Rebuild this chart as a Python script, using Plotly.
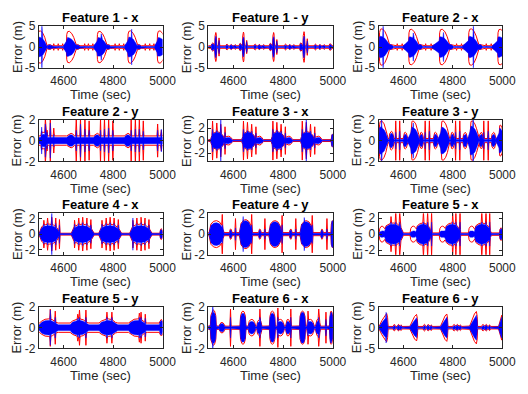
import numpy as np
import plotly.graph_objects as go

# ---------------- data ----------------
TITLES = ["Feature 1 - x", "Feature 1 - y", "Feature 2 - x",
          "Feature 2 - y", "Feature 3 - x", "Feature 3 - y",
          "Feature 4 - x", "Feature 4 - y", "Feature 5 - x",
          "Feature 5 - y", "Feature 6 - x", "Feature 6 - y"]
X_RANGE = [4500, 5000]
X_TICKS = [4600, 4800, 5000]
Y_LIMS = [5, 5, 5, 2, 3.3, 2, 2.7, 2, 2.6, 2, 2, 5]
Y_TICKS = [[-5, 0, 5], [-5, 0, 5], [-5, 0, 5], [-2, 0, 2], [-2, 0, 2], [-2, 0, 2],
           [-2, 0, 2], [-2, 0, 2], [-2, 0, 2], [-2, 0, 2], [-2, 0, 2], [-5, 0, 5]]

# quiet-level sigma bound (red) and error half-width (blue) per panel
BASE_RED = [0.3, 0.3, 0.3, 0.45, 0.15, 0.2, 0.12, 0.15, 0.15, 0.45, 0.15, 0.3]
BASE_BLUE = [0.12, 0.12, 0.12, 0.3, 0.07, 0.1, 0.07, 0.08, 0.07, 0.28, 0.08, 0.12]

# lobes: start time, duration, red peak, blue peak
F1X_LOBE_T0 = [4495, 4611, 4735, 4859, 4978]
F1X_LOBE_LEN = [38, 40, 40, 40, 40]
F1X_LOBE_RED = [3.9, 3.8, 3.8, 3.9, 3.9]
F1X_LOBE_BLUE = [2.4, 2.3, 2.3, 2.4, 2.3]
# bursts: centre time, half width, red peak, blue peak
F1X_B_T = [4512, 4875, 4752, 4543, 4656, 4780, 4904, 4560, 4578, 4596, 4685, 4700, 4718, 4808, 4825, 4843, 4930, 4948, 4965]
F1X_B_W = [2, 2, 2, 10, 10, 10, 10, 2, 2, 2, 2, 2, 2, 2, 2, 2, 2, 2, 2]
F1X_B_RED = [0, 0, 0, 0.6, 0.6, 0.6, 0.6, 0.8, 0.8, 0.8, 0.8, 0.8, 0.8, 0.8, 0.8, 0.8, 0.8, 0.8, 0.8]
F1X_B_BLUE = [5.2, 4.3, 3.2, 0.5, 0.5, 0.5, 0.5, 0.3, 0.3, 0.3, 0.3, 0.3, 0.3, 0.3, 0.3, 0.3, 0.3, 0.3, 0.3]

F1Y_B_T = [4530, 4641, 4762, 4884, 4543, 4654, 4775, 4897, 4518, 4629, 4750, 4872,
           4575, 4592, 4608, 4688, 4705, 4722, 4810, 4827, 4843, 4930, 4948, 4965, 4990]
F1Y_B_W = [4, 4, 4, 4, 3, 3, 3, 3, 6, 6, 6, 6, 5, 6, 4, 5, 6, 4, 5, 6, 4, 5, 6, 4, 6]
F1Y_B_RED = [3.5, 3.6, 3.5, 3.7, 2.2, 1.6, 1.8, 2.0, 1.0, 0.9, 0.9, 1.0,
             0.7, 0.6, 0.6, 0.7, 0.6, 0.6, 0.7, 0.6, 0.6, 0.7, 0.6, 0.6, 0.8]
F1Y_B_BLUE = [2.6, 2.4, 2.5, 2.6, 1.6, 1.3, 1.4, 1.5, 0.8, 0.7, 0.7, 0.8,
              0.5, 0.5, 0.4, 0.5, 0.5, 0.4, 0.5, 0.5, 0.4, 0.5, 0.5, 0.4, 0.6]

F2X_LOBE_T0 = [4502, 4621, 4745, 4863, 4981]
F2X_LOBE_LEN = [42, 42, 42, 42, 42]
F2X_LOBE_RED = [4.4, 4.3, 4.3, 4.4, 4.3]
F2X_LOBE_BLUE = [2.6, 2.5, 2.5, 2.6, 2.5]
F2X_B_T = [4518, 4883, 4640, 4762, 4547, 4666, 4790, 4908, 4575, 4595, 4690, 4712, 4815, 4835, 4935, 4955]
F2X_B_W = [2, 2, 2, 2, 12, 12, 12, 12, 2, 2, 2, 2, 2, 2, 2, 2]
F2X_B_RED = [0, 0, 0, 0, 0.6, 0.6, 0.6, 0.6, 0.8, 0.8, 0.8, 0.8, 0.8, 0.8, 0.8, 0.8]
F2X_B_BLUE = [5.2, 5.2, 3.4, 3.5, 0.6, 0.6, 0.6, 0.6, 0.3, 0.3, 0.3, 0.3, 0.3, 0.3, 0.3, 0.3]

F2Y_B_T = [4511, 4526, 4533, 4546, 4560, 4651, 4668, 4686, 4703, 4749, 4765, 4782, 4799,
           4873, 4890, 4906, 4922, 4980, 4995, 4630, 4736, 4860, 4520]
F2Y_B_W = [2.5, 2.5, 2, 2.5, 2.5, 2.5, 2.5, 2.5, 2.5, 2.5, 2.5, 2.5, 2.5,
           2.5, 2.5, 2.5, 2.5, 2.5, 3, 18, 15, 15, 15]
F2Y_B_RED = [0.9, 2.1, 1.0, 2.0, 1.2, 2.1, 2.1, 2.1, 1.9, 2.1, 2.1, 2.0, 1.9,
             2.1, 2.1, 2.0, 1.9, 1.6, 1.0, 0.7, 0.7, 0.7, 0.8]
F2Y_B_BLUE = [1.3, 1.6, 0.8, 1.7, 0.6, 1.0, 1.6, 1.1, 1.0, 1.0, 1.1, 1.2, 1.0,
              1.0, 1.1, 1.1, 0.9, 1.0, 1.1, 0.55, 0.55, 0.55, 0.6]

F3X_B_T = [4537, 4662, 4780, 4898, 4580, 4705, 4823, 4941, 4998,
           4517, 4534, 4550, 4567, 4641, 4657, 4674, 4691, 4759, 4775, 4792, 4809, 4877, 4893, 4910, 4927]
F3X_B_W = [28, 28, 28, 28, 18, 16, 16, 16, 5,
           2.5, 2.5, 2.5, 2.5, 2.5, 2.5, 2.5, 2.5, 2.5, 2.5, 2.5, 2.5, 2.5, 2.5, 2.5, 2.5]
F3X_B_RED = [1.4, 1.4, 1.4, 1.4, 0.7, 0.7, 0.7, 0.7, 1.0,
             3.1, 2.8, 2.6, 2.2, 3.1, 2.9, 2.6, 2.2, 3.1, 2.9, 2.6, 2.2, 3.1, 2.9, 2.6, 2.2]
F3X_B_BLUE = [1.3, 1.3, 1.3, 1.3, 0.5, 0.5, 0.5, 0.5, 1.0,
              1.8, 1.6, 3.5, 1.3, 1.8, 1.6, 1.5, 1.2, 1.8, 1.7, 1.5, 1.2, 1.8, 3.5, 1.5, 1.2]

F3Y_LOBE_T0 = [4502, 4630, 4751, 4869, 4987]
F3Y_LOBE_LEN = [36, 36, 36, 36, 20]
F3Y_LOBE_RED = [1.9, 1.9, 1.9, 1.9, 1.5]
F3Y_LOBE_BLUE = [1.3, 1.3, 1.3, 1.4, 1.2]
F3Y_B_T = [4512, 4882, 4640, 4569, 4585, 4688, 4705, 4811, 4828, 4925, 4943,
           4552, 4608, 4673, 4730, 4798, 4850, 4915, 4965]
F3Y_B_W = [2, 2, 2, 2.5, 2.5, 2.5, 2.5, 2.5, 2.5, 2.5, 2.5, 10, 9, 8, 9, 8, 9, 8, 9]
F3Y_B_RED = [0, 0, 0, 1.9, 1.9, 1.9, 1.9, 1.9, 1.9, 1.9, 1.9, 0.9, 0.8, 0.8, 0.8, 0.8, 0.8, 0.8, 0.8]
F3Y_B_BLUE = [2.4, 2.2, 1.7, 0.8, 0.9, 0.8, 0.9, 0.8, 0.9, 0.8, 0.9, 0.7, 0.6, 0.6, 0.6, 0.6, 0.6, 0.6, 0.6]

F4X_B_T = [4543, 4677, 4788, 4912, 4995,
           4520, 4535, 4552, 4568, 4583, 4644, 4661, 4677, 4694, 4710,
           4755, 4772, 4788, 4804, 4821, 4880, 4896, 4913, 4929, 4945]
F4X_B_W = [42, 46, 46, 45, 6] + [2.5] * 20
F4X_B_RED = [1.3, 1.3, 1.3, 1.3, 0.7,
             1.8, 2.1, 2.2, 2.1, 1.9, 1.8, 2.1, 2.2, 2.1, 1.9,
             1.8, 2.1, 2.2, 2.1, 1.9, 1.8, 2.1, 2.2, 2.1, 1.9]
F4X_B_BLUE = [1.1, 1.1, 1.1, 1.1, 0.6,
              1.3, 1.4, 2.8, 1.4, 1.2, 1.3, 1.4, 1.5, 1.4, 1.2,
              1.3, 1.4, 1.5, 1.4, 1.2, 2.1, 1.4, 1.5, 1.4, 1.2]

F4Y_B_T = [4533, 4651, 4769, 4894, 4998,
           4556, 4609, 4674, 4727, 4796, 4851, 4917, 4976,
           4590, 4707, 4831, 4956, 4640, 4885]
F4Y_B_W = [30, 26, 26, 26, 6, 2.5, 2.5, 2.5, 2.5, 2.5, 2.5, 2.5, 2.5, 5, 5, 5, 5, 2, 2]
F4Y_B_RED = [1.3, 1.4, 1.3, 1.3, 1.3, 1.9, 1.5, 1.9, 1.5, 1.8, 1.5, 1.8, 1.5, 0.5, 0.5, 0.5, 0.5, 0, 0]
F4Y_B_BLUE = [1.1, 1.3, 1.2, 1.2, 1.3, 0.9, 0.6, 0.9, 0.5, 0.9, 0.5, 0.9, 0.5, 0.4, 0.4, 0.4, 0.4, 1.7, 1.6]

F5X_LOBE_T0 = [4502, 4627, 4745, 4863]
F5X_LOBE_LEN = [24, 26, 26, 26]
F5X_LOBE_RED = [1.0, 1.0, 1.0, 1.0]
F5X_LOBE_BLUE = [0.4, 0.4, 0.4, 0.4]
F5X_B_T = [4560, 4681, 4798, 4920, 4995,
           4550, 4569, 4585, 4681, 4698, 4714, 4799, 4812, 4829, 4917, 4934, 4949]
F5X_B_W = [40, 33, 33, 36, 6] + [2.5] * 12
F5X_B_RED = [1.4, 1.4, 1.4, 1.4, 0.8] + [2.2, 2.8, 2.8, 2.8, 2.8, 2.8, 2.8, 2.8, 2.8, 2.8, 2.8, 2.8]
F5X_B_BLUE = [1.25, 1.25, 1.25, 1.25, 0.7] + [1.5] * 12

F5Y_B_T = [4540, 4664, 4781, 4900, 4995,
           4546, 4566, 4657, 4664, 4690, 4775, 4795, 4906, 4913, 4930]
F5Y_B_W = [38, 38, 38, 38, 8] + [2.5] * 10
F5Y_B_RED = [0.85, 0.85, 0.85, 0.85, 0.8, 1.8, 1.6, 1.3, 1.7, 1.7, 1.5, 1.5, 1.4, 1.5, 1.3]
F5Y_B_BLUE = [0.7, 0.7, 0.7, 0.7, 0.7, 1.7, 1.0, 0.9, 1.0, 1.0, 1.0, 1.0, 1.0, 1.0, 0.9]

F6X_LOBE_T0 = [4508, 4627, 4745, 4866, 4986]
F6X_LOBE_LEN = [24, 24, 24, 24, 14]
F6X_LOBE_RED = [1.7, 1.6, 1.6, 1.6, 1.6]
F6X_LOBE_BLUE = [1.5, 1.4, 1.4, 1.5, 1.5]
F6X_B_T = [4518, 4555, 4675, 4705, 4790, 4820, 4910, 4940,
           4589, 4707, 4779, 4831, 4900, 4943, 4972]
F6X_B_W = [2, 12, 15, 10, 15, 10, 15, 10] + [2.5] * 7
F6X_B_RED = [0, 0.5, 0.8, 0.8, 0.8, 0.8, 0.8, 0.8, 1.8, 1.8, 1.9, 1.8, 1.6, 1.8, 1.5]
F6X_B_BLUE = [2.1, 0.4, 0.6, 0.6, 0.6, 0.6, 0.6, 0.6, 1.0, 1.0, 1.0, 1.0, 0.8, 1.0, 0.8]

F6Y_LOBE_T0 = [4502, 4626, 4750, 4868, 4985]
F6Y_LOBE_LEN = [36, 32, 30, 32, 15]
F6Y_LOBE_RED = [3.4, 3.2, 3.3, 3.9, 3.0]
F6Y_LOBE_BLUE = [2.6, 2.4, 2.5, 3.0, 2.5]
F6Y_B_T = [4530, 4563, 4580, 4590, 4685, 4700, 4712, 4805, 4818, 4830, 4922, 4935, 4948]
F6Y_B_W = [2, 5, 5, 4, 5, 5, 4, 5, 5, 4, 5, 5, 4]
F6Y_B_RED = [0, 0.8, 0.8, 0.7, 0.8, 0.8, 0.7, 0.8, 0.8, 0.7, 0.8, 0.8, 0.7]
F6Y_B_BLUE = [3.7, 0.5, 0.6, 0.5, 0.5, 0.6, 0.5, 0.5, 0.6, 0.5, 0.5, 0.6, 0.5]

# lobe profiles (fraction of duration, fraction of peak)
DECAY_F = [0, 0.04, 0.12, 0.3, 0.55, 0.75, 0.9, 1.0]
DECAY_R = [0.2, 0.8, 0.97, 1.0, 0.85, 0.6, 0.3, 0.0]
DECAY_B = [0.6, 0.95, 1.0, 0.95, 0.8, 0.55, 0.25, 0.0]
RAMP_F = [0, 0.3, 0.6, 0.85, 0.95, 1.0]
RAMP_R = [0.1, 0.5, 0.85, 1.0, 0.7, 0.0]
RAMP_B = [0.1, 0.45, 0.8, 1.0, 0.6, 0.0]
OVAL_F = [0, 0.1, 0.3, 0.5, 0.7, 0.9, 1.0]
OVAL_R = [0.1, 0.7, 0.95, 1.0, 0.95, 0.7, 0.1]
OVAL_B = [0.1, 0.7, 0.95, 1.0, 0.95, 0.7, 0.1]
# burst profiles (fraction of half width, fraction of peak)
BLOB_F = [-1, -0.75, -0.4, 0, 0.4, 0.75, 1]
BLOB_V = [0, 0.75, 0.95, 1.0, 0.9, 0.6, 0]
SPIKE_F = [-1, 0, 1]
SPIKE_V = [0, 1, 0]

PANELS = [
    (F1X_LOBE_T0, F1X_LOBE_LEN, F1X_LOBE_RED, F1X_LOBE_BLUE, "decay", F1X_B_T, F1X_B_W, F1X_B_RED, F1X_B_BLUE),
    ([], [], [], [], "decay", F1Y_B_T, F1Y_B_W, F1Y_B_RED, F1Y_B_BLUE),
    (F2X_LOBE_T0, F2X_LOBE_LEN, F2X_LOBE_RED, F2X_LOBE_BLUE, "decay", F2X_B_T, F2X_B_W, F2X_B_RED, F2X_B_BLUE),
    ([], [], [], [], "decay", F2Y_B_T, F2Y_B_W, F2Y_B_RED, F2Y_B_BLUE),
    ([], [], [], [], "decay", F3X_B_T, F3X_B_W, F3X_B_RED, F3X_B_BLUE),
    (F3Y_LOBE_T0, F3Y_LOBE_LEN, F3Y_LOBE_RED, F3Y_LOBE_BLUE, "decay", F3Y_B_T, F3Y_B_W, F3Y_B_RED, F3Y_B_BLUE),
    ([], [], [], [], "decay", F4X_B_T, F4X_B_W, F4X_B_RED, F4X_B_BLUE),
    ([], [], [], [], "decay", F4Y_B_T, F4Y_B_W, F4Y_B_RED, F4Y_B_BLUE),
    (F5X_LOBE_T0, F5X_LOBE_LEN, F5X_LOBE_RED, F5X_LOBE_BLUE, "oval", F5X_B_T, F5X_B_W, F5X_B_RED, F5X_B_BLUE),
    ([], [], [], [], "decay", F5Y_B_T, F5Y_B_W, F5Y_B_RED, F5Y_B_BLUE),
    (F6X_LOBE_T0, F6X_LOBE_LEN, F6X_LOBE_RED, F6X_LOBE_BLUE, "oval", F6X_B_T, F6X_B_W, F6X_B_RED, F6X_B_BLUE),
    (F6Y_LOBE_T0, F6Y_LOBE_LEN, F6Y_LOBE_RED, F6Y_LOBE_BLUE, "ramp", F6Y_B_T, F6Y_B_W, F6Y_B_RED, F6Y_B_BLUE),
]
PROFILES = {"decay": (DECAY_F, DECAY_R, DECAY_B),
            "ramp": (RAMP_F, RAMP_R, RAMP_B),
            "oval": (OVAL_F, OVAL_R, OVAL_B)}

# ---------------- layout (pixels of the 528x394 page) ----------------
W, H = 528, 394
COLS = [(40, 167), (214, 342), (389, 516)]
ROWS = [(20, 63), (117, 160), (214, 257), (311, 354)]
RED = "#FF0000"
BLUE = "#0000FF"
AX = "#262626"
FONT = "Liberation Sans, Arial, Helvetica, sans-serif"


def envelopes(panel, base_r, base_b):
    lt0, llen, lred, lblue, shape, bt, bw, bred, bblue = panel
    pf, pr, pb = PROFILES[shape]
    feats = []
    for t0, L, r, b in zip(lt0, llen, lred, lblue):
        kt = np.array([t0 + f * L for f in pf])
        feats.append((kt, np.array(pr) * r, np.array(pb) * b))
    for c, w, r, b in zip(bt, bw, bred, bblue):
        if w <= 3:
            kt = c + w * np.array(SPIKE_F, float)
            prof = np.array(SPIKE_V, float)
        else:
            kt = c + w * np.array(BLOB_F, float)
            prof = np.array(BLOB_V, float)
        feats.append((kt, prof * r, prof * b))
    tt = [X_RANGE[0] - 20, X_RANGE[1] + 20]
    for kt, _, _ in feats:
        tt.extend(kt.tolist())
    tt = np.unique(np.array(tt))
    red = np.full(tt.shape, base_r)
    blue = np.full(tt.shape, base_b)
    for kt, kr, kb in feats:
        red = np.maximum(red, np.interp(tt, kt, kr, left=0, right=0))
        blue = np.maximum(blue, np.interp(tt, kt, kb, left=0, right=0))
    return tt, red, blue


fig = go.Figure()
annotations = []
layout = {}
for i in range(12):
    r, c = divmod(i, 3)
    x0, x1 = COLS[c]
    top, bot = ROWS[r]
    n = "" if i == 0 else str(i + 1)
    xa, ya = "x" + n, "y" + n
    tt, red, blue = envelopes(PANELS[i], BASE_RED[i], BASE_BLUE[i])
    fig.add_trace(go.Scatter(x=tt, y=red, mode="lines", line=dict(color=RED, width=1),
                             xaxis=xa, yaxis=ya, showlegend=False, hoverinfo="skip"))
    fig.add_trace(go.Scatter(x=tt, y=-red, mode="lines", line=dict(color=RED, width=1),
                             xaxis=xa, yaxis=ya, showlegend=False, hoverinfo="skip"))
    fig.add_trace(go.Scatter(x=np.concatenate([tt, tt[::-1]]),
                             y=np.concatenate([blue, -blue[::-1]]),
                             mode="lines", fill="toself", fillcolor=BLUE,
                             line=dict(color=BLUE, width=0.5),
                             xaxis=xa, yaxis=ya, showlegend=False, hoverinfo="skip"))
    common = dict(showline=True, linecolor=AX, linewidth=1, mirror="ticks",
                  ticks="inside", ticklen=3, tickcolor=AX, showgrid=False,
                  zeroline=False, tickfont=dict(family=FONT, size=12, color=AX))
    layout["xaxis" + n] = dict(domain=[x0 / W, x1 / W], anchor=ya, range=X_RANGE,
                               tickvals=X_TICKS, ticktext=[str(v) for v in X_TICKS],
                               ticklabelstandoff=2, **common)
    yl = Y_LIMS[i]
    layout["yaxis" + n] = dict(domain=[1 - bot / H, 1 - top / H], anchor=xa, range=[-yl, yl],
                               tickvals=Y_TICKS[i], ticktext=[str(v) for v in Y_TICKS[i]], **common)
    xc = (x0 + x1) / 2 / W
    annotations.append(dict(text="<b>%s</b>" % TITLES[i], x=xc, y=1 - top / H, xref="paper", yref="paper",
                            xanchor="center", yanchor="bottom", yshift=0, borderpad=0, showarrow=False,
                            font=dict(family=FONT, size=13, color="black")))
    annotations.append(dict(text="Time (sec)", x=xc, y=1 - bot / H, xref="paper", yref="paper",
                            xanchor="center", yanchor="middle", yshift=-27, borderpad=0, showarrow=False,
                            font=dict(family=FONT, size=13, color=AX)))
    annotations.append(dict(text="Error (m)", x=x0 / W, y=1 - (top + bot) / 2 / H, xref="paper", yref="paper",
                            xanchor="center", yanchor="middle", xshift=-22, textangle=-90, borderpad=0,
                            showarrow=False, font=dict(family=FONT, size=13, color=AX)))

fig.update_layout(width=W, height=H, margin=dict(l=0, r=0, t=0, b=0),
                  paper_bgcolor="white", plot_bgcolor="white",
                  annotations=annotations, **layout)
fig.write_html("out.html")
